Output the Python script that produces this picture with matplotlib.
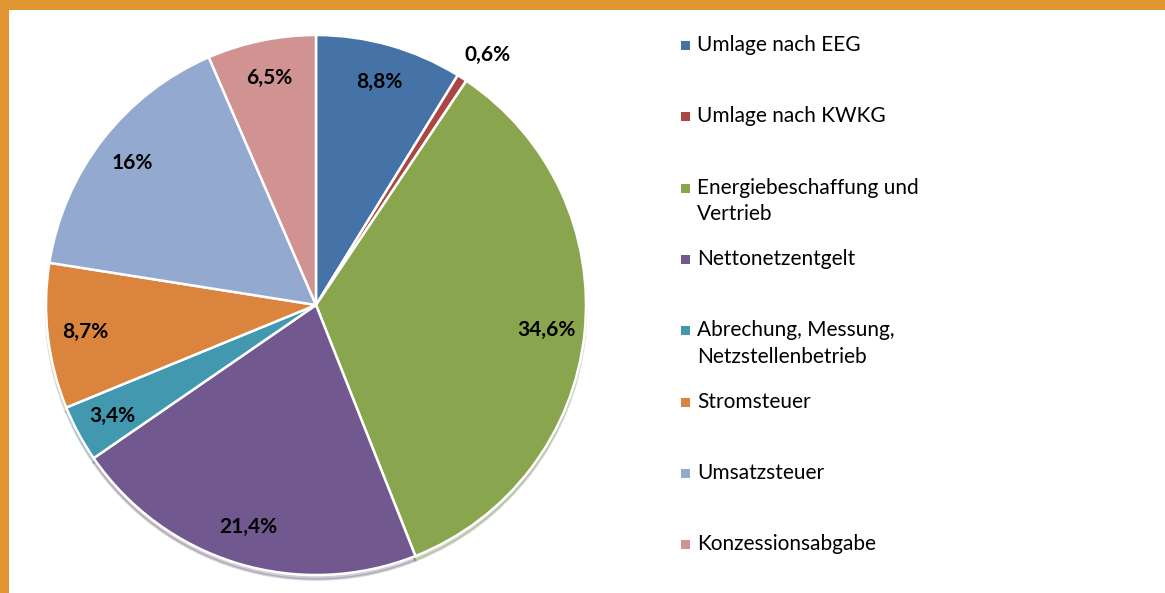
#!/usr/bin/env python3
"""Strompreis-Zusammensetzung als Tortendiagramm mit Legende rechts."""
import matplotlib
matplotlib.use("Agg")
import matplotlib.pyplot as plt
from matplotlib.patches import Rectangle
import numpy as np

# --- data -------------------------------------------------------------------
categories = ["Umlage nach EEG", "Umlage nach KWKG",
              "Energiebeschaffung und\nVertrieb", "Nettonetzentgelt",
              "Abrechung, Messung,\nNetzstellenbetrieb", "Stromsteuer",
              "Umsatzsteuer", "Konzessionsabgabe"]
shares = [8.8, 0.6, 34.6, 21.4, 3.4, 8.7, 16.0, 6.5]
share_labels = ["8,8%", "0,6%", "34,6%", "21,4%", "3,4%", "8,7%", "16%", "6,5%"]
colors = ["#4572A7", "#AA4643", "#89A54E", "#71588F",
          "#4198AF", "#DB843D", "#93A9CF", "#D19392"]

W, H = 1165, 593
ORANGE = "#E09530"
plt.rcParams["font.family"] = ["Lato", "DejaVu Sans"]

fig = plt.figure(figsize=(W / 100, H / 100), dpi=100)
fig.patch.set_facecolor("white")

# orange frame (left and top)
fig.patches.append(Rectangle((0, 0), 9 / W, 1, transform=fig.transFigure,
                             facecolor=ORANGE, edgecolor="none", zorder=5))
fig.patches.append(Rectangle((0, 1 - 10 / H), 1, 10 / H, transform=fig.transFigure,
                             facecolor=ORANGE, edgecolor="none", zorder=5))

# pie: centre (316, 305) px from top, radius 270 px
cx, cy, r = 316, H - 305, 270
ax = fig.add_axes([(cx - r) / W, (cy - r) / H, 2 * r / W, 2 * r / H])
wedges, _ = ax.pie(shares, colors=colors, startangle=90, counterclock=False,
                   wedgeprops=dict(edgecolor="white", linewidth=1.8),
                   shadow=dict(ox=0.0, oy=-0.012, shade=0.35, alpha=0.25))
ax.set_xlim(-1, 1)
ax.set_ylim(-1, 1)
ax.set_aspect("equal")
ax.axis("off")

start = 90.0
for val, lab in zip(shares, share_labels):
    mid = np.deg2rad(start - val * 3.6 / 2)
    rr = 1.1 if val < 1 else 0.86
    x, y = rr * np.cos(mid), rr * np.sin(mid)
    if val < 1:
        x += 0.04   # small label sits a bit to the right in the original
    ax.text(x, y, lab, ha="center", va="center",
            fontsize=15, fontweight="bold", color="black")
    start -= val * 3.6

# legend, drawn by hand so the spacing matches
y0, step = 45, 71.3
for i, (name, col) in enumerate(zip(categories, colors)):
    y = y0 + i * step
    fig.patches.append(Rectangle((681 / W, 1 - (y + 5) / H), 9 / W, 9 / H,
                                 transform=fig.transFigure, facecolor=col,
                                 edgecolor="none"))
    for j, line in enumerate(name.split("\n")):
        fig.text(697 / W, 1 - (y + j * 26.5) / H, line, ha="left", va="center",
                 fontsize=15, color="black")

fig.savefig("out.png", dpi=100)
